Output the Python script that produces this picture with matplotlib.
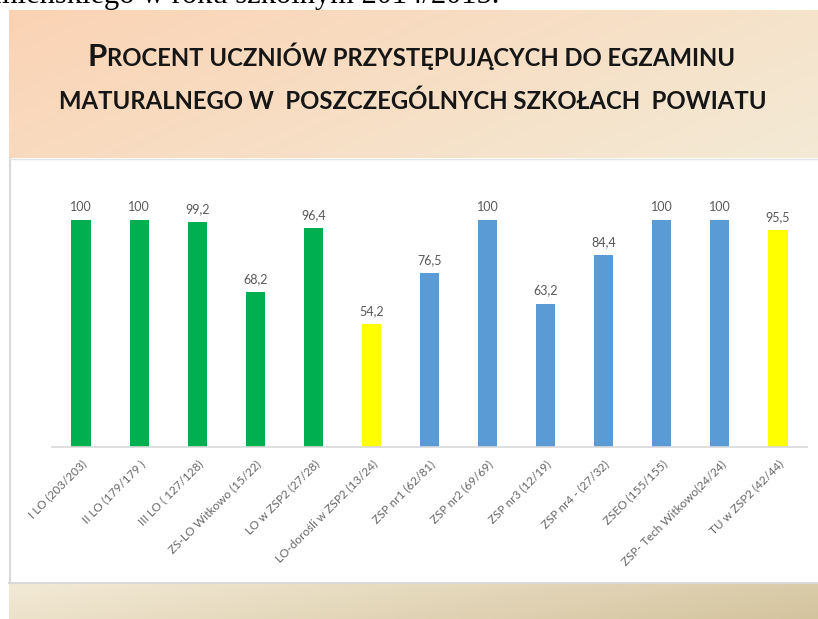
import numpy as np
import matplotlib
matplotlib.use("Agg")
import matplotlib.pyplot as plt
from matplotlib.colors import to_rgb

# data
schools = ["I LO (203/203)", "II LO (179/179 )", "III LO ( 127/128)",
           "ZS-LO Witkowo (15/22)", "LO w ZSP2 (27/28)", "LO-doro\u015bli w ZSP2 (13/24)",
           "ZSP nr1 (62/81)", "ZSP nr2 (69/69)", "ZSP nr3 (12/19)", "ZSP nr4 - (27/32)",
           "ZSEO (155/155)", "ZSP- Tech Witkowo(24/24)", "TU w ZSP2 (42/44)"]
percent = [100, 100, 99.2, 68.2, 96.4, 54.2, 76.5, 100, 63.2, 84.4, 100, 100, 95.5]
groups = ["lo", "lo", "lo", "lo", "lo", "adult", "zsp", "zsp", "zsp", "zsp", "zsp", "zsp", "adult"]
group_colors = {"lo": "#00b050", "zsp": "#5b9bd5", "adult": "#ffff00"}

W, H = 818, 619
fig = plt.figure(figsize=(W / 100, H / 100), dpi=100)
fig.patch.set_facecolor("white")

# slide background drawn in pixel coordinates
bg = fig.add_axes([0, 0, 1, 1])
bg.set_xlim(0, W)
bg.set_ylim(H, 0)
bg.axis("off")


def gradient(x0, x1, y0, y1, c_left, c_right, tilt=0.25):
    nx, ny = 200, 60
    xx, yy = np.meshgrid(np.linspace(0, 1, nx), np.linspace(0, 1, ny))
    t = np.clip(xx * (1 - tilt) + yy * tilt, 0, 1)[..., None]
    img = np.array(to_rgb(c_left)) * (1 - t) + np.array(to_rgb(c_right)) * t
    bg.imshow(img, extent=(x0, x1, y1, y0), aspect="auto", interpolation="bilinear")


gradient(9, W, 10, 158, "#fbd3b4", "#f3ead5", tilt=0.3)
gradient(9, W, 583, H, "#f3ead6", "#d4c49e", tilt=0.2)
bg.plot([9.5, 9.5], [158, 583], color="#d9d9d9", lw=1.5)
bg.plot([9, W], [583, 583], color="#d9d9d9", lw=1.5)
bg.plot([9, W], [158.5, 158.5], color="#e4e4e4", lw=1)
bg.set_xlim(0, W)
bg.set_ylim(H, 0)

# cut-off line of the surrounding document
bg.text(-6, 3, "mie\u0144skiego w roku szkolnym 2014/2015.", family="Liberation Serif",
        fontsize=22, va="baseline", ha="left", color="black")

# title in small caps
r = fig.canvas.get_renderer()
tfont = dict(family="Lato", weight="bold", color="#161616", va="baseline", ha="left")
tp = fig.text(0, 0, "P", fontsize=22.5, **tfont)
tr = fig.text(0, 0, "ROCENT UCZNI\u00d3W PRZYST\u0118PUJ\u0104CYCH DO EGZAMINU", fontsize=17.2, **tfont)
wp = tp.get_window_extent(r).width
wr = tr.get_window_extent(r).width
x0 = 411 - (wp + wr) / 2
y1 = 1 - 66 / H
tp.set_position((x0 / W, y1))
tr.set_position(((x0 + wp) / W, y1))
fig.text(413 / W, 1 - 109 / H, "MATURALNEGO W  POSZCZEG\u00d3LNYCH SZKO\u0141ACH  POWIATU",
         fontsize=17.2, family="Lato", weight="bold", color="#161616", ha="center", va="baseline")

# chart
ax = fig.add_axes([52 / W, (H - 447) / H, 755 / W, 272.4 / H])
ax.patch.set_alpha(0)
x = np.arange(len(schools))
bars = ax.bar(x, percent, width=0.33, color=[group_colors[g] for g in groups])
labels = [("%g" % v).replace(".", ",") for v in percent]
ax.bar_label(bars, labels=labels, padding=5, fontsize=9, color="#595959", family="Lato")
ax.set_xlim(-0.5, len(schools) - 0.5)
ax.set_ylim(0, 120)
ax.set_xticks(x)
ax.set_xticklabels(schools, rotation=45, ha="right", rotation_mode="anchor",
                   fontsize=8.5, color="#666666", family="Lato")
ax.tick_params(axis="x", length=0, pad=8)
ax.set_yticks([])
for s in ["top", "right", "left"]:
    ax.spines[s].set_visible(False)
ax.spines["bottom"].set_color("#d9d9d9")
ax.spines["bottom"].set_linewidth(1.2)

fig.savefig("out.png", dpi=100)
